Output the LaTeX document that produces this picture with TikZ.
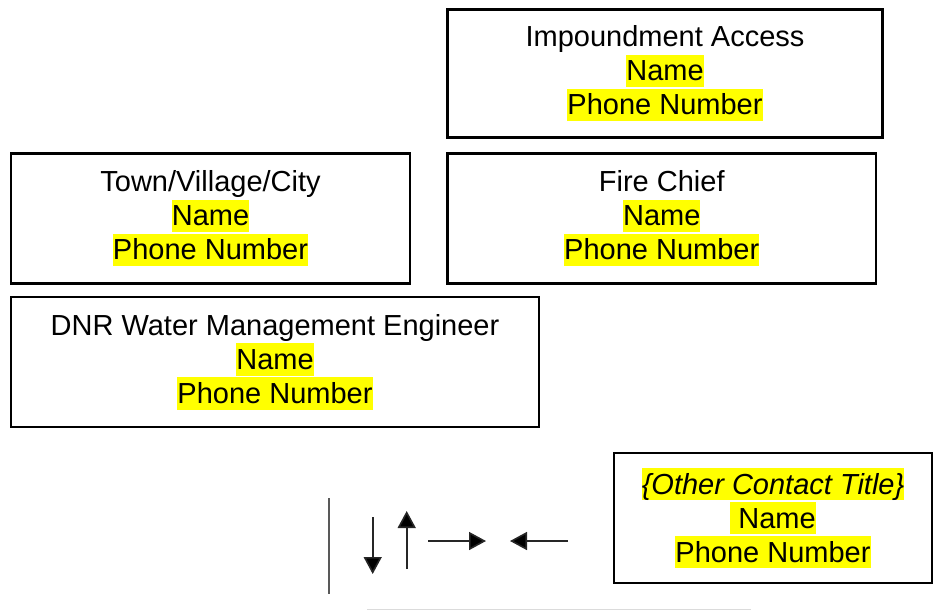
\documentclass[tikz,border=0pt]{standalone}
\usepackage{fontspec}
\setmainfont{Liberation Sans}
\usetikzlibrary{arrows.meta}
\definecolor{hlyellow}{HTML}{FFFF00}
\newcommand{\hlt}[1]{{\setlength{\fboxsep}{0pt}\colorbox{hlyellow}{\rule[-0.212em]{0pt}{1.117em}#1}}}
\tikzset{
  contact/.style={draw=black, line width=2.6pt, rectangle, inner sep=0pt, outer sep=0pt,
    align=center, font=\fontsize{29}{34}\selectfont, text=black},
  arr/.style={line width=1.6pt, draw=black!85, -{Triangle[length=17pt 0 1,width=18pt 0 1,fill=black]}},
  vline/.style={line width=2pt, draw=black!65}
}
\begin{document}
\begin{tikzpicture}[x=1pt,y=-1pt]
\useasboundingbox (0,0) rectangle (941,611);
\node[contact, minimum width=435pt, minimum height=128pt] (imp) at (665,73.5)
  {Impoundment Access\\\hlt{Name}\\\hlt{Phone Number}};
\node[contact, minimum width=399pt, minimum height=130pt] (town) at (210.5,218.5)
  {Town/Village/City\\\hlt{Name}\\\hlt{Phone Number}};
\node[contact, minimum width=428.5pt, minimum height=130pt] (fire) at (661.75,218.5)
  {Fire Chief\\\hlt{Name}\\\hlt{Phone Number}};
\node[contact, minimum width=528pt, minimum height=130pt] (dnr) at (275,362)
  {DNR Water Management Engineer\\\hlt{Name}\\\hlt{Phone Number}};
\node[contact, minimum width=318pt, minimum height=130pt] (other) at (773,518)
  {\hlt{\itshape\{Other Contact Title\}}\\\hlt{\hspace{0.278em}Name}\\\hlt{Phone Number}};
% free lines and arrows
\coordinate (v1) at (329,498);
\coordinate (v2) at (329,594);
\draw[vline] (v1) -- (v2);
\coordinate (d1) at (372.7,517);
\coordinate (d2) at (372.7,574);
\draw[arr] (d1) -- (d2);
\coordinate (u1) at (406.7,569);
\coordinate (u2) at (406.7,511);
\draw[arr] (u1) -- (u2);
\coordinate (r1) at (428,541);
\coordinate (r2) at (486,541);
\draw[arr] (r1) -- (r2);
\coordinate (l1) at (568,541);
\coordinate (l2) at (510,541);
\draw[arr] (l1) -- (l2);
\coordinate (g1) at (367,609.5);
\coordinate (g2) at (751,609.5);
\draw[line width=1.2pt, draw=black!14] (g1) -- (g2);
\end{tikzpicture}
\end{document}
